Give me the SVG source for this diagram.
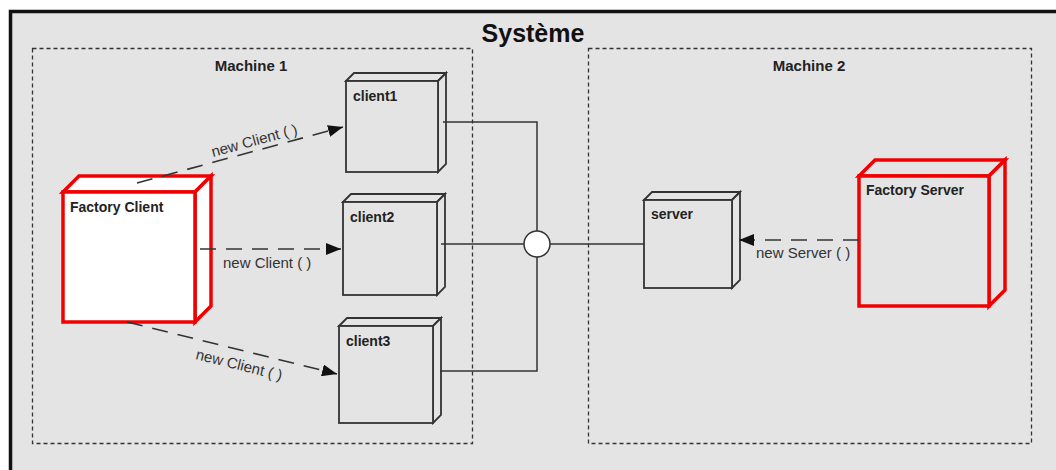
<svg xmlns="http://www.w3.org/2000/svg" width="1056" height="470" viewBox="0 0 1056 470">
<style>
.frame{fill:#e4e4e4;stroke:#111;stroke-width:3.5}
.machine{fill:none;stroke:#333;stroke-width:1.3;stroke-dasharray:4 3}
.node{fill:#e4e4e4;stroke:#333;stroke-width:1.8;stroke-linejoin:miter}
.fac{stroke:#f00000;stroke-width:3.5;stroke-linejoin:miter}
.lbl{font-family:"Liberation Sans",Arial,sans-serif;font-weight:bold;font-size:14px;fill:#222}
.title{font-family:"Liberation Sans",Arial,sans-serif;font-weight:bold;font-size:25px;fill:#111}
.mlbl{font-family:"Liberation Sans",Arial,sans-serif;font-weight:bold;font-size:15px;fill:#222}
.elbl{font-family:"Liberation Sans",Arial,sans-serif;font-size:15px;fill:#333}
.wire{fill:none;stroke:#333;stroke-width:1.5}
.dash{fill:none;stroke:#333;stroke-width:1.6;stroke-dasharray:16 10}
</style>
<defs>
<marker id="arr" markerUnits="userSpaceOnUse" markerWidth="16" markerHeight="12" refX="15" refY="6" orient="auto">
<path d="M0,0 L15,6 L0,12 Z" fill="#111"/>
</marker>
</defs>
<rect x="0" y="0" width="1056" height="470" fill="#fff"/>
<rect class="frame" x="10.5" y="11.5" width="1070" height="480"/>
<text class="title" x="533" y="42" text-anchor="middle">Système</text>

<g id="machine1">
<rect class="machine" x="32.5" y="48.5" width="440" height="395"/>
<text class="mlbl" x="251" y="71" text-anchor="middle">Machine 1</text>
</g>
<g id="machine2">
<rect class="machine" x="588.5" y="48.5" width="443" height="395"/>
<text class="mlbl" x="809" y="71" text-anchor="middle">Machine 2</text>
</g>

<g id="factory-client">
<polygon class="fac" fill="#fff" points="63,192 79,176 211,176 195,192"/>
<polygon class="fac" fill="#fff" points="195,192 211,176 211,306 195,322"/>
<rect class="fac" fill="#fff" x="63" y="192" width="132" height="130"/>
<text class="lbl" x="70" y="212">Factory Client</text>
</g>

<g id="client1">
<polygon class="node" points="346,81 354,73 446,73 438,81"/>
<polygon class="node" points="438,81 446,73 446,164 438,172"/>
<rect class="node" x="346" y="81" width="92" height="91"/>
<text class="lbl" x="353" y="101">client1</text>
</g>

<g id="client2">
<polygon class="node" points="343,202 351,194 445,194 437,202"/>
<polygon class="node" points="437,202 445,194 445,287 437,295"/>
<rect class="node" x="343" y="202" width="94" height="93"/>
<text class="lbl" x="350" y="222">client2</text>
</g>

<g id="client3">
<polygon class="node" points="339,326 347,318 441,318 433,326"/>
<polygon class="node" points="433,326 441,318 441,415 433,423"/>
<rect class="node" x="339" y="326" width="94" height="97"/>
<text class="lbl" x="346" y="346">client3</text>
</g>

<g id="server">
<polygon class="node" points="644,200 652,192 740,192 732,200"/>
<polygon class="node" points="732,200 740,192 740,280 732,288"/>
<rect class="node" x="644" y="200" width="88" height="88"/>
<text class="lbl" x="651" y="219">server</text>
</g>

<g id="factory-server">
<polygon class="fac" fill="#e4e4e4" points="859,176 875,160 1005,160 989,176"/>
<polygon class="fac" fill="#e4e4e4" points="989,176 1005,160 1005,290 989,306"/>
<rect class="fac" fill="#e4e4e4" x="859" y="176" width="130" height="130"/>
<text class="lbl" x="866" y="195">Factory Server</text>
</g>

<g id="connectors">
<path class="wire" d="M443,122 H537 V231"/>
<path class="wire" d="M441,244 H524"/>
<path class="wire" d="M440,371 H537 V257"/>
<path class="wire" d="M550,244 H644" stroke-width="2.5"/>
<circle cx="537" cy="244" r="13" fill="#fff" stroke="#333" stroke-width="1.5"/>
<path class="dash" d="M137,183 L343,127" marker-end="url(#arr)"/>
<text class="elbl" x="213" y="157" transform="rotate(-15.2 213 157)">new Client ( )</text>
<path class="dash" d="M200,249 L341,249" marker-end="url(#arr)"/>
<text class="elbl" x="223" y="268">new Client ( )</text>
<path class="dash" d="M127,322 L337,374" marker-end="url(#arr)"/>
<text class="elbl" x="195" y="359" transform="rotate(14 195 359)">new Client ( )</text>
<path class="dash" d="M859,240 L739,240" marker-end="url(#arr)"/>
<text class="elbl" x="756" y="258">new Server ( )</text>
</g>
</svg>
